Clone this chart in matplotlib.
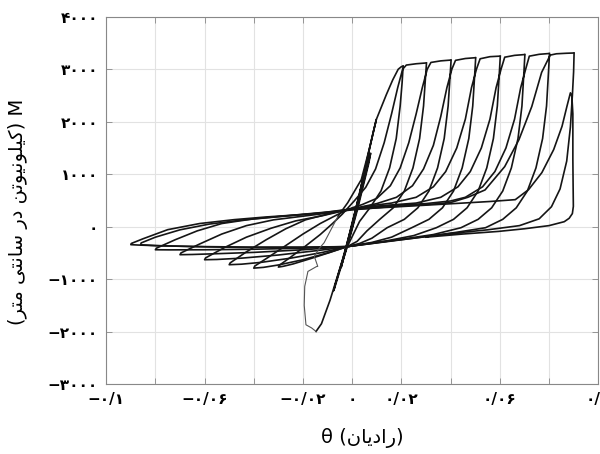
import matplotlib
matplotlib.use("Agg")
import matplotlib.pyplot as plt

# ---- hysteresis record: rotation (rad) and moment, one block per cycle ----
# early elastic cycles down to the first negative peak
th_c0 = [0.0, 0.003, 0.0045, 0.0038, 0.0, -0.003, -0.0045, -0.0038, 0.0, 0.005, 0.0075,
         0.0068, 0.002, -0.002, -0.006, -0.0075, -0.0068, -0.002, 0.003, 0.0069, 0.0098,
         0.0088, 0.0045, 0.0, -0.004, -0.009, -0.0125, -0.0147]
m_c0 = [0, 600, 950, 760, 80, -500, -780, -650, -20, 920, 1400,
        1220, 300, -380, -990, -1220, -1090, -330, 620, 1469, 2042,
        1850, 950, 50, -640, -1400, -1850, -1997]
# slab crushing branch at the first negative peak (lighter trace)
th_crush = [-0.0147, -0.0165, -0.0188, -0.0195, -0.0193, -0.018, -0.0145, -0.014,
            -0.0154, -0.0135, -0.0114, -0.0058]
m_crush = [-1997, -1930, -1870, -1500, -1139, -853, -760, -757,
           -566, -420, -305, 197]
# reloading up to the 0.02 rad peak
th_c0b = [-0.0058, -0.0018, 0.0037, 0.0069, 0.0098, 0.0139, 0.0165, 0.0187, 0.0200, 0.0207]
m_c0b = [197, 458, 897, 1469, 2042, 2519, 2800, 3000, 3050, 3060]

th_c1 = [0.0207, 0.0203, 0.0195, 0.0179, 0.0152, 0.0117, 0.0072, 0.003, -0.002,
         -0.009, -0.017, -0.024, -0.028, -0.030,
         -0.0296, -0.025, -0.019, -0.013, -0.008, -0.004, 0.001, 0.0055, 0.0095, 0.013,
         0.016, 0.0185, 0.0205, 0.022, 0.026, 0.030]
m_c1 = [3060, 2750, 2300, 1680, 1120, 680, 360, 100, -380,
        -490, -610, -710, -755, -770,
        -735, -580, -370, -150, 60, 240, 500, 750, 1100, 1600,
        2150, 2650, 3000, 3080, 3105, 3120]

th_c2 = [0.0302, 0.0298, 0.029, 0.0274, 0.0247, 0.0212, 0.0167, 0.0112, 0.006, 0.002, -0.002,
         -0.010, -0.020, -0.030, -0.036, -0.040,
         -0.0396, -0.034, -0.027, -0.020, -0.013, -0.006, 0.0, 0.004, 0.010, 0.0155,
         0.0195, 0.023, 0.026, 0.0285, 0.0305, 0.032, 0.036, 0.040]
m_c2 = [3120, 2850, 2300, 1680, 1120, 680, 360, 140, -80, -280, -380,
        -500, -630, -730, -775, -790,
        -750, -580, -360, -140, 60, 230, 360, 420, 540, 780,
        1120, 1600, 2150, 2650, 3000, 3130, 3160, 3175]

th_c3 = [0.0402, 0.0398, 0.039, 0.0374, 0.0347, 0.0312, 0.0267, 0.0212, 0.0142, 0.008, 0.003, -0.002,
         -0.012, -0.025, -0.037, -0.045, -0.050,
         -0.0496, -0.043, -0.035, -0.027, -0.019, -0.010, -0.002, 0.003, 0.010, 0.018,
         0.0245, 0.029, 0.033, 0.036, 0.0385, 0.0405, 0.042, 0.046, 0.050]
m_c3 = [3175, 2880, 2300, 1680, 1120, 680, 360, 140, -20, -220, -320, -380,
        -490, -600, -680, -715, -725,
        -690, -480, -250, -40, 130, 240, 330, 370, 440, 560,
        780, 1100, 1550, 2100, 2650, 3000, 3170, 3205, 3220]

th_c4 = [0.0502, 0.0498, 0.049, 0.0474, 0.0447, 0.0412, 0.0367, 0.0312, 0.0242, 0.016, 0.008, 0.0, -0.002,
         -0.015, -0.030, -0.045, -0.055, -0.060,
         -0.0596, -0.052, -0.043, -0.033, -0.023, -0.012, -0.002, 0.006, 0.016, 0.026,
         0.033, 0.038, 0.0425, 0.046, 0.0485, 0.0505, 0.052, 0.056, 0.060]
m_c4 = [3220, 2900, 2300, 1680, 1120, 680, 360, 140, -20, -200, -300, -365, -385,
        -460, -540, -600, -625, -630,
        -595, -400, -200, -30, 110, 210, 320, 390, 450, 560,
        760, 1050, 1500, 2050, 2650, 3000, 3200, 3240, 3250]

th_c5 = [0.0602, 0.0598, 0.059, 0.0574, 0.0547, 0.0512, 0.0467, 0.0412, 0.0342, 0.025, 0.014, 0.005, -0.002,
         -0.020, -0.040, -0.055, -0.065, -0.070,
         -0.0696, -0.062, -0.053, -0.043, -0.032, -0.020, -0.008, 0.0, 0.012, 0.026,
         0.036, 0.043, 0.048, 0.0525, 0.056, 0.0585, 0.0605, 0.062, 0.066, 0.070]
m_c5 = [3250, 2920, 2300, 1680, 1120, 680, 360, 140, -20, -170, -270, -330, -380,
        -440, -490, -515, -530, -534,
        -500, -330, -140, 20, 130, 200, 270, 340, 400, 450,
        560, 760, 1050, 1500, 2050, 2650, 3000, 3230, 3265, 3280]

th_c6 = [0.0702, 0.0698, 0.069, 0.0674, 0.0647, 0.0612, 0.0567, 0.0512, 0.0442, 0.033, 0.020, 0.008, -0.002,
         -0.020, -0.040, -0.060, -0.074, -0.080,
         -0.0796, -0.072, -0.063, -0.053, -0.040, -0.025, -0.010, 0.0, 0.015, 0.030,
         0.040, 0.046, 0.053, 0.058, 0.0625, 0.066, 0.0685, 0.0705, 0.072, 0.076, 0.080]
m_c6 = [3280, 2940, 2300, 1680, 1120, 680, 360, 140, -20, -150, -240, -320, -380,
        -410, -430, -440, -442, -440,
        -410, -250, -80, 60, 150, 215, 280, 340, 400, 440,
        490, 560, 760, 1050, 1500, 2050, 2650, 3000, 3250, 3285, 3300]

th_c7 = [0.0802, 0.0798, 0.079, 0.0774, 0.0747, 0.0712, 0.0667, 0.0612, 0.0542, 0.042, 0.028, 0.015, 0.003, -0.002,
         -0.020, -0.040, -0.060, -0.078, -0.087, -0.090,
         -0.0898, -0.085, -0.075, -0.062, -0.048, -0.035, -0.021, -0.010, 0.0, 0.015,
         0.030, 0.040, 0.047, 0.054, 0.062, 0.0678, 0.073, 0.077, 0.0805, 0.083, 0.087, 0.090]
m_c7 = [3300, 2950, 2300, 1680, 1120, 680, 360, 140, -20, -110, -200, -280, -350, -380,
        -390, -390, -380, -365, -350, -343,
        -320, -230, -57, 60, 134, 185, 229, 270, 320, 380,
        420, 460, 560, 700, 1145, 1660, 2290, 2940, 3270, 3295, 3305, 3310]

# last cycle: reloading stops at the flange fracture and the moment drops
th_c8 = [0.0902, 0.0900, 0.0895, 0.0887, 0.0872, 0.0845, 0.081, 0.076, 0.068, 0.055, 0.040, 0.025, 0.010, -0.002,
         -0.020, -0.045, -0.065, -0.080, -0.086,
         -0.0858, -0.080, -0.070, -0.058, -0.045, -0.030, -0.015, 0.0, 0.015, 0.030,
         0.045, 0.056, 0.0663, 0.0717, 0.0771, 0.0819, 0.0853, 0.0873, 0.0887,
         0.0893, 0.0897, 0.0897, 0.0898, 0.0899, 0.0895, 0.0882, 0.0862, 0.080, 0.070,
         0.0595, 0.045, 0.030]
m_c8 = [3310, 2950, 2500, 1900, 1250, 720, 380, 150, 20, -60, -130, -220, -300, -380,
        -395, -395, -380, -360, -345,
        -310, -200, -60, 50, 125, 190, 250, 330, 370, 410,
        450, 480, 515, 706, 1030, 1469, 1913, 2295, 2551,
        2480, 2150, 1278, 800, 387, 250, 160, 95, 20, -40,
        -90, -140, -200]

cycles = [(th_c0, m_c0), (th_c0b, m_c0b), (th_c1, m_c1), (th_c2, m_c2), (th_c3, m_c3),
          (th_c4, m_c4), (th_c5, m_c5), (th_c6, m_c6), (th_c7, m_c7), (th_c8, m_c8)]

# ---- axis ticks ----
x_ticks = [-0.1, -0.08, -0.06, -0.04, -0.02, 0.0, 0.02, 0.04, 0.06, 0.08, 0.1]
x_labeled = ["-0.1", "", "-0.06", "", "-0.02", "0", "0.02", "", "0.06", "", "0.1"]
y_ticks = [-3000, -2000, -1000, 0, 1000, 2000, 3000, 4000]

# ---- Persian text helpers (no shaping engine in matplotlib) ----
FA_DIGITS = str.maketrans("0123456789.-", "۰۱۲۳۴۵۶۷۸۹/−")

# isolated, final, initial, medial
FORMS = {
    "ا": ("\uFE8D", "\uFE8E", "\uFE8D", "\uFE8E"),
    "د": ("\uFEA9", "\uFEAA", "\uFEA9", "\uFEAA"),
    "ر": ("\uFEAD", "\uFEAE", "\uFEAD", "\uFEAE"),
    "و": ("\uFEED", "\uFEEE", "\uFEED", "\uFEEE"),
    "ت": ("\uFE95", "\uFE96", "\uFE97", "\uFE98"),
    "س": ("\uFEB1", "\uFEB2", "\uFEB3", "\uFEB4"),
    "ل": ("\uFEDD", "\uFEDE", "\uFEDF", "\uFEE0"),
    "م": ("\uFEE1", "\uFEE2", "\uFEE3", "\uFEE4"),
    "ن": ("\uFEE5", "\uFEE6", "\uFEE7", "\uFEE8"),
    "ک": ("\uFB8E", "\uFB8F", "\uFB90", "\uFB91"),
    "ی": ("\uFBFC", "\uFBFD", "\uFBFE", "\uFBFF"),
}
DUAL = set("تسلمنکی")


def fa(text):
    """Return Persian text in visual (left-to-right) order with joined letter forms."""
    out = []
    for i, ch in enumerate(text):
        if ch not in FORMS:
            out.append(ch)
            continue
        prev = text[i - 1] if i > 0 else ""
        nxt = text[i + 1] if i + 1 < len(text) else ""
        join_prev = prev in DUAL
        join_next = ch in DUAL and nxt in FORMS
        iso, fin, ini, med = FORMS[ch]
        if join_prev and join_next:
            out.append(med)
        elif join_prev:
            out.append(fin)
        elif join_next:
            out.append(ini)
        else:
            out.append(iso)
    return "".join(reversed(out))


plt.rcParams["font.family"] = ["DejaVu Sans"]

fig = plt.figure(figsize=(6.0, 4.54), dpi=100)
ax = fig.add_axes([0.177, 0.154, 0.820, 0.809])

for th, m in cycles:
    ax.plot(th, m, color="#151515", lw=1.2, solid_joinstyle="round")
ax.plot(th_crush, m_crush, color="#555555", lw=0.8)

ax.set_xlim(-0.1, 0.1)
ax.set_ylim(-3000, 4000)
ax.set_xticks(x_ticks, [s.translate(FA_DIGITS) for s in x_labeled])
ax.set_yticks(y_ticks, [str(v).translate(FA_DIGITS) for v in y_ticks])
ax.grid(True, color="#e2e2e2", lw=0.8)
ax.set_axisbelow(True)
ax.tick_params(direction="in", top=True, right=True, length=4, width=0.6,
               color="#888888", labelsize=11, pad=6)
for lab in ax.get_xticklabels() + ax.get_yticklabels():
    lab.set_fontweight("bold")
for sp in ax.spines.values():
    sp.set_color("#888888")
    sp.set_linewidth(0.8)

ax.set_xlabel("θ (" + fa("رادیان") + ")", fontsize=14)
ax.set_ylabel("(" + fa("کیلونیوتن در سانتی متر") + ") M", fontsize=14)
ax.xaxis.set_label_coords(0.52, -0.12)
ax.yaxis.set_label_coords(-0.158, 0.47)

fig.savefig("out.png", dpi=100)
